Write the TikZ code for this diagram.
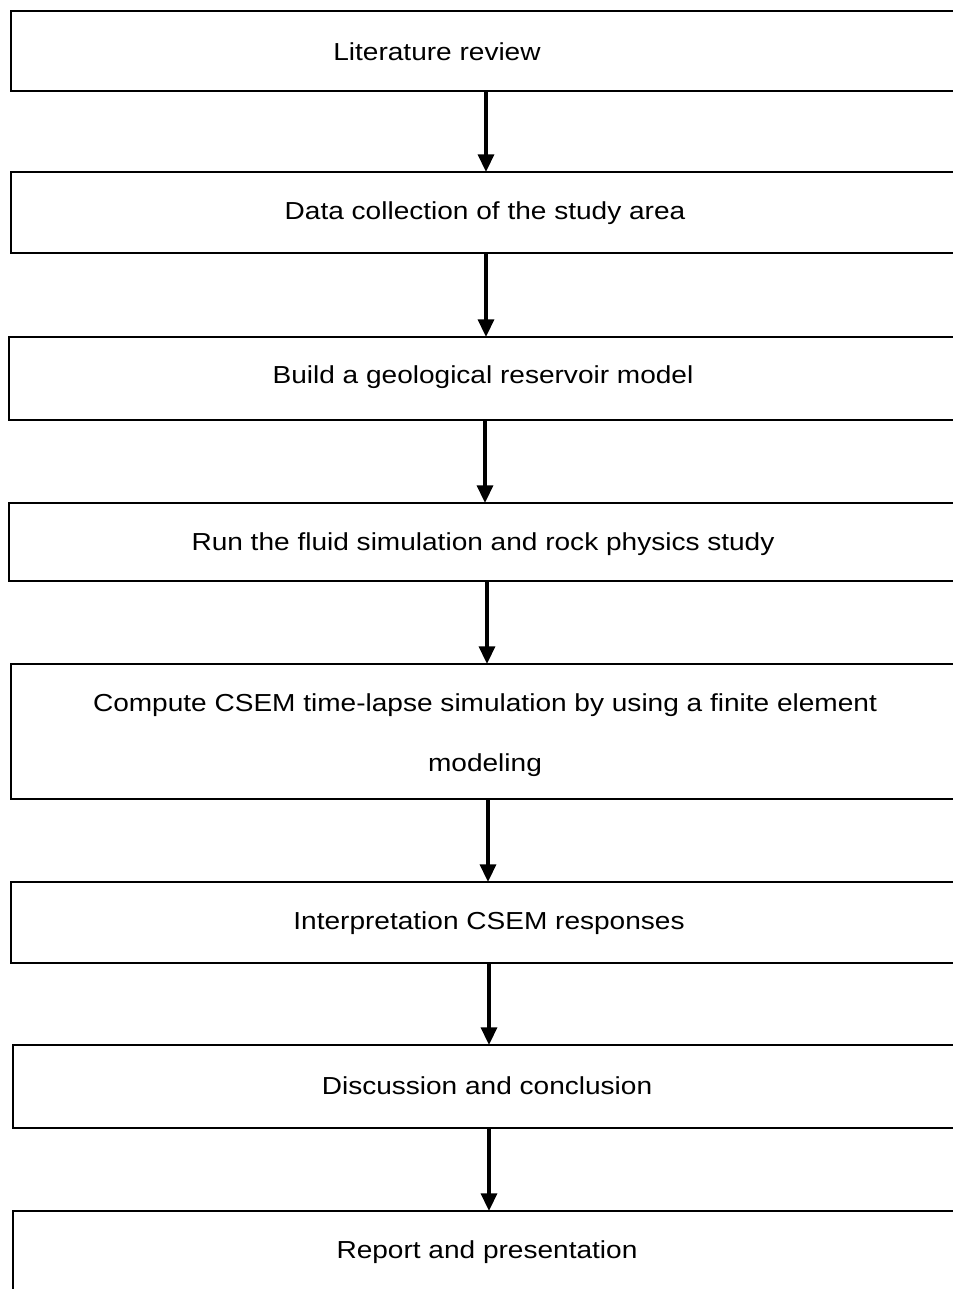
\documentclass[tikz,border=0pt]{standalone}
\usepackage{fontspec}
\setmainfont[FakeStretch=1.14]{Liberation Sans}
\usetikzlibrary{arrows.meta}
\tikzset{
  stepbox/.style={draw=black, line width=1.5pt},
  lbl/.style={font=\fontsize{14pt}{16pt}\selectfont, inner sep=0pt, anchor=center},
  flow/.style={line width=2pt, -{Triangle[width=9pt,length=10pt]}},
}
\begin{document}
\begin{tikzpicture}[x=0.02cm, y=-0.02cm]
\useasboundingbox (0,0) rectangle (953,1289);
\clip (0,0) rectangle (953,1289);
% boxes
\draw[stepbox] (11,11) rectangle (970,91);
\draw[stepbox] (11,172) rectangle (970,253);
\draw[stepbox] (9,337) rectangle (970,420);
\draw[stepbox] (9,503) rectangle (970,581);
\draw[stepbox] (11,664) rectangle (970,799);
\draw[stepbox] (11,882) rectangle (970,963);
\draw[stepbox] (13,1045) rectangle (970,1128);
\draw[stepbox] (13,1211) rectangle (970,1320);
% labels
\node[lbl] (t1) at (437,52) {Literature review};
\node[lbl] (t2) at (485,213) {Data collection of the study area};
\node[lbl] (t3) at (483,377) {Build a geological reservoir model};
\node[lbl] (t4) at (483,544) {Run the fluid simulation and rock physics study};
\node[lbl] (t5a) at (485,705) {Compute CSEM time-lapse simulation by using a finite element};
\node[lbl] (t5b) at (485,765) {modeling};
\node[lbl] (t6) at (489,923) {Interpretation CSEM responses};
\node[lbl] (t7) at (487,1086) {Discussion and conclusion};
\node[lbl] (t8) at (487,1252) {Report and presentation};
% connector end points
\coordinate (a1) at (486,91);  \coordinate (b1) at (486,172);
\coordinate (a2) at (486,253); \coordinate (b2) at (486,337);
\coordinate (a3) at (485,420); \coordinate (b3) at (485,503);
\coordinate (a4) at (487,581); \coordinate (b4) at (487,664);
\coordinate (a5) at (488,799); \coordinate (b5) at (488,882);
\coordinate (a6) at (489,963); \coordinate (b6) at (489,1045);
\coordinate (a7) at (489,1128); \coordinate (b7) at (489,1211);
\foreach \i in {1,...,7} \draw[flow] (a\i) -- (b\i);
\end{tikzpicture}
\end{document}
